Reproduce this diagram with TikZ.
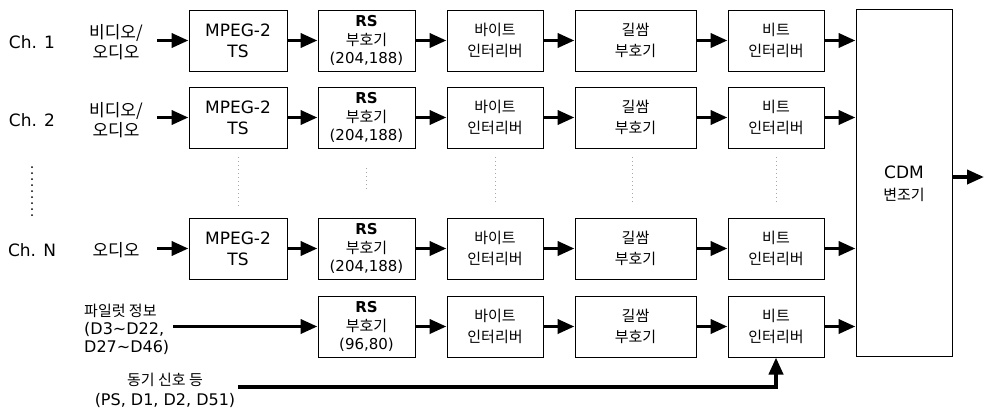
\documentclass[tikz,border=0pt]{standalone}
\usepackage{fontspec}
\setmainfont{DejaVu Sans}
\newfontfamily\kr{Noto Sans CJK KR}
\usetikzlibrary{arrows.meta}
\begin{document}
\begin{tikzpicture}[x=1pt,y=-1pt,
  blk/.style={draw, line width=1pt, inner sep=0pt, minimum height=61pt, align=center},
  mpegbox/.style={blk, minimum width=98pt, font=\fontsize{17}{21}\selectfont},
  rsbox/.style={blk, minimum width=97pt, font=\fontsize{15}{18.5}\selectfont},
  bytebox/.style={blk, minimum width=96pt, font=\kr\fontsize{15}{21}\selectfont},
  convbox/.style={blk, minimum width=121pt, font=\kr\fontsize{15}{21}\selectfont},
  bitbox/.style={blk, minimum width=96pt, font=\kr\fontsize{15}{21}\selectfont},
  chlab/.style={font=\fontsize{17}{21}\selectfont, inner sep=0pt},
  srclab/.style={font=\kr\fontsize{17}{20}\selectfont, align=center, inner sep=0pt},
  flow/.style={line width=3.8pt, -{Triangle[length=17pt,width=14pt]}},
  faint/.style={draw=gray!70, line width=0.6pt, dash pattern=on 1pt off 3pt}
]
\useasboundingbox (0,0) rectangle (984,410);

% rows
\def\ya{40.5}\def\yb{117.5}\def\yc{248.5}\def\yd{326.5}

% CDM
\node[draw, line width=1pt, minimum width=96pt, minimum height=347pt, inner sep=0pt] (cdm) at (904,182.5) {};
\node[align=center, inner sep=0pt, font=\fontsize{17}{22}\selectfont] (cdmtxt) at (904,184) {CDM\\{\kr\fontsize{15}{22}\selectfont 변조기}};

% row boxes
\foreach \r/\y in {1/\ya,2/\yb,3/\yc}{
  \node[mpegbox] (m\r) at (238,\y) {MPEG-2\\TS};
  \node[rsbox] (rs\r) at (366.5,\y) {\textbf{RS}\\{\kr\fontsize{15}{18.5}\selectfont 부호기}\\(204,188)};
  \node[bytebox] (bi\r) at (495,\y) {바이트\\인터리버};
  \node[convbox] (cv\r) at (635.5,\y) {길쌈\\부호기};
  \node[bitbox] (bt\r) at (776,\y) {비트\\인터리버};
  \coordinate (s\r) at (157,\y);
  \draw[flow] (s\r) -- (m\r);
  \draw[flow] (m\r) -- (rs\r);
  \draw[flow] (rs\r) -- (bi\r);
  \draw[flow] (bi\r) -- (cv\r);
  \draw[flow] (cv\r) -- (bt\r);
  \draw[flow] (bt\r) -- (bt\r -| cdm.west);
}

% pilot row
\node[rsbox] (rsp) at (366.5,\yd) {\textbf{RS}\\{\kr\fontsize{15}{18.5}\selectfont 부호기}\\(96,80)};
\node[bytebox] (bip) at (495,\yd) {바이트\\인터리버};
\node[convbox] (cvp) at (635.5,\yd) {길쌈\\부호기};
\node[bitbox] (btp) at (776,\yd) {비트\\인터리버};
\coordinate (sp) at (173,\yd);
\draw[flow] (sp) -- (rsp);
\draw[flow] (rsp) -- (bip);
\draw[flow] (bip) -- (cvp);
\draw[flow] (cvp) -- (btp);
\draw[flow] (btp) -- (btp -| cdm.west);

% output
\coordinate (out) at (984,177);
\draw[flow] (cdm.east |- out) -- (out);

% sync
\coordinate (sync) at (238,387);
\draw[flow] (sync) -| (btp.south);

% labels
\node[chlab] (ch1) at (32,42) {Ch. 1};
\node[chlab] (ch2) at (32,120) {Ch. 2};
\node[chlab] (chn) at (32,250) {Ch. N};
\node[srclab] (v1) at (116,42) {비디오/\\오디오};
\node[srclab] (v2) at (116,120) {비디오/\\오디오};
\node[srclab] (vn) at (116,250) {오디오};
\node[anchor=west, align=left, inner sep=0pt, font=\fontsize{16}{18}\selectfont] (pil) at (84,329) {{\kr\fontsize{15}{18}\selectfont 파일럿 정보}\\(D3\textasciitilde D22,\\D27\textasciitilde D46)};
\node[align=center, inner sep=0pt, font=\fontsize{16}{20}\selectfont] (syn) at (165,390) {{\kr\fontsize{15}{20}\selectfont 동기 신호 등}\\(PS, D1, D2, D51)};

% dots
\draw[line width=2pt, line cap=round, dash pattern=on 0pt off 6pt] (32,167) -- (32,218);
\draw[faint] (238,157) -- (238,207);
\draw[faint] (366.5,168) -- (366.5,190);
\draw[faint] (495,157) -- (495,203);
\draw[faint] (632,157) -- (632,203);
\draw[faint] (776,157) -- (776,205);
\end{tikzpicture}
\end{document}
